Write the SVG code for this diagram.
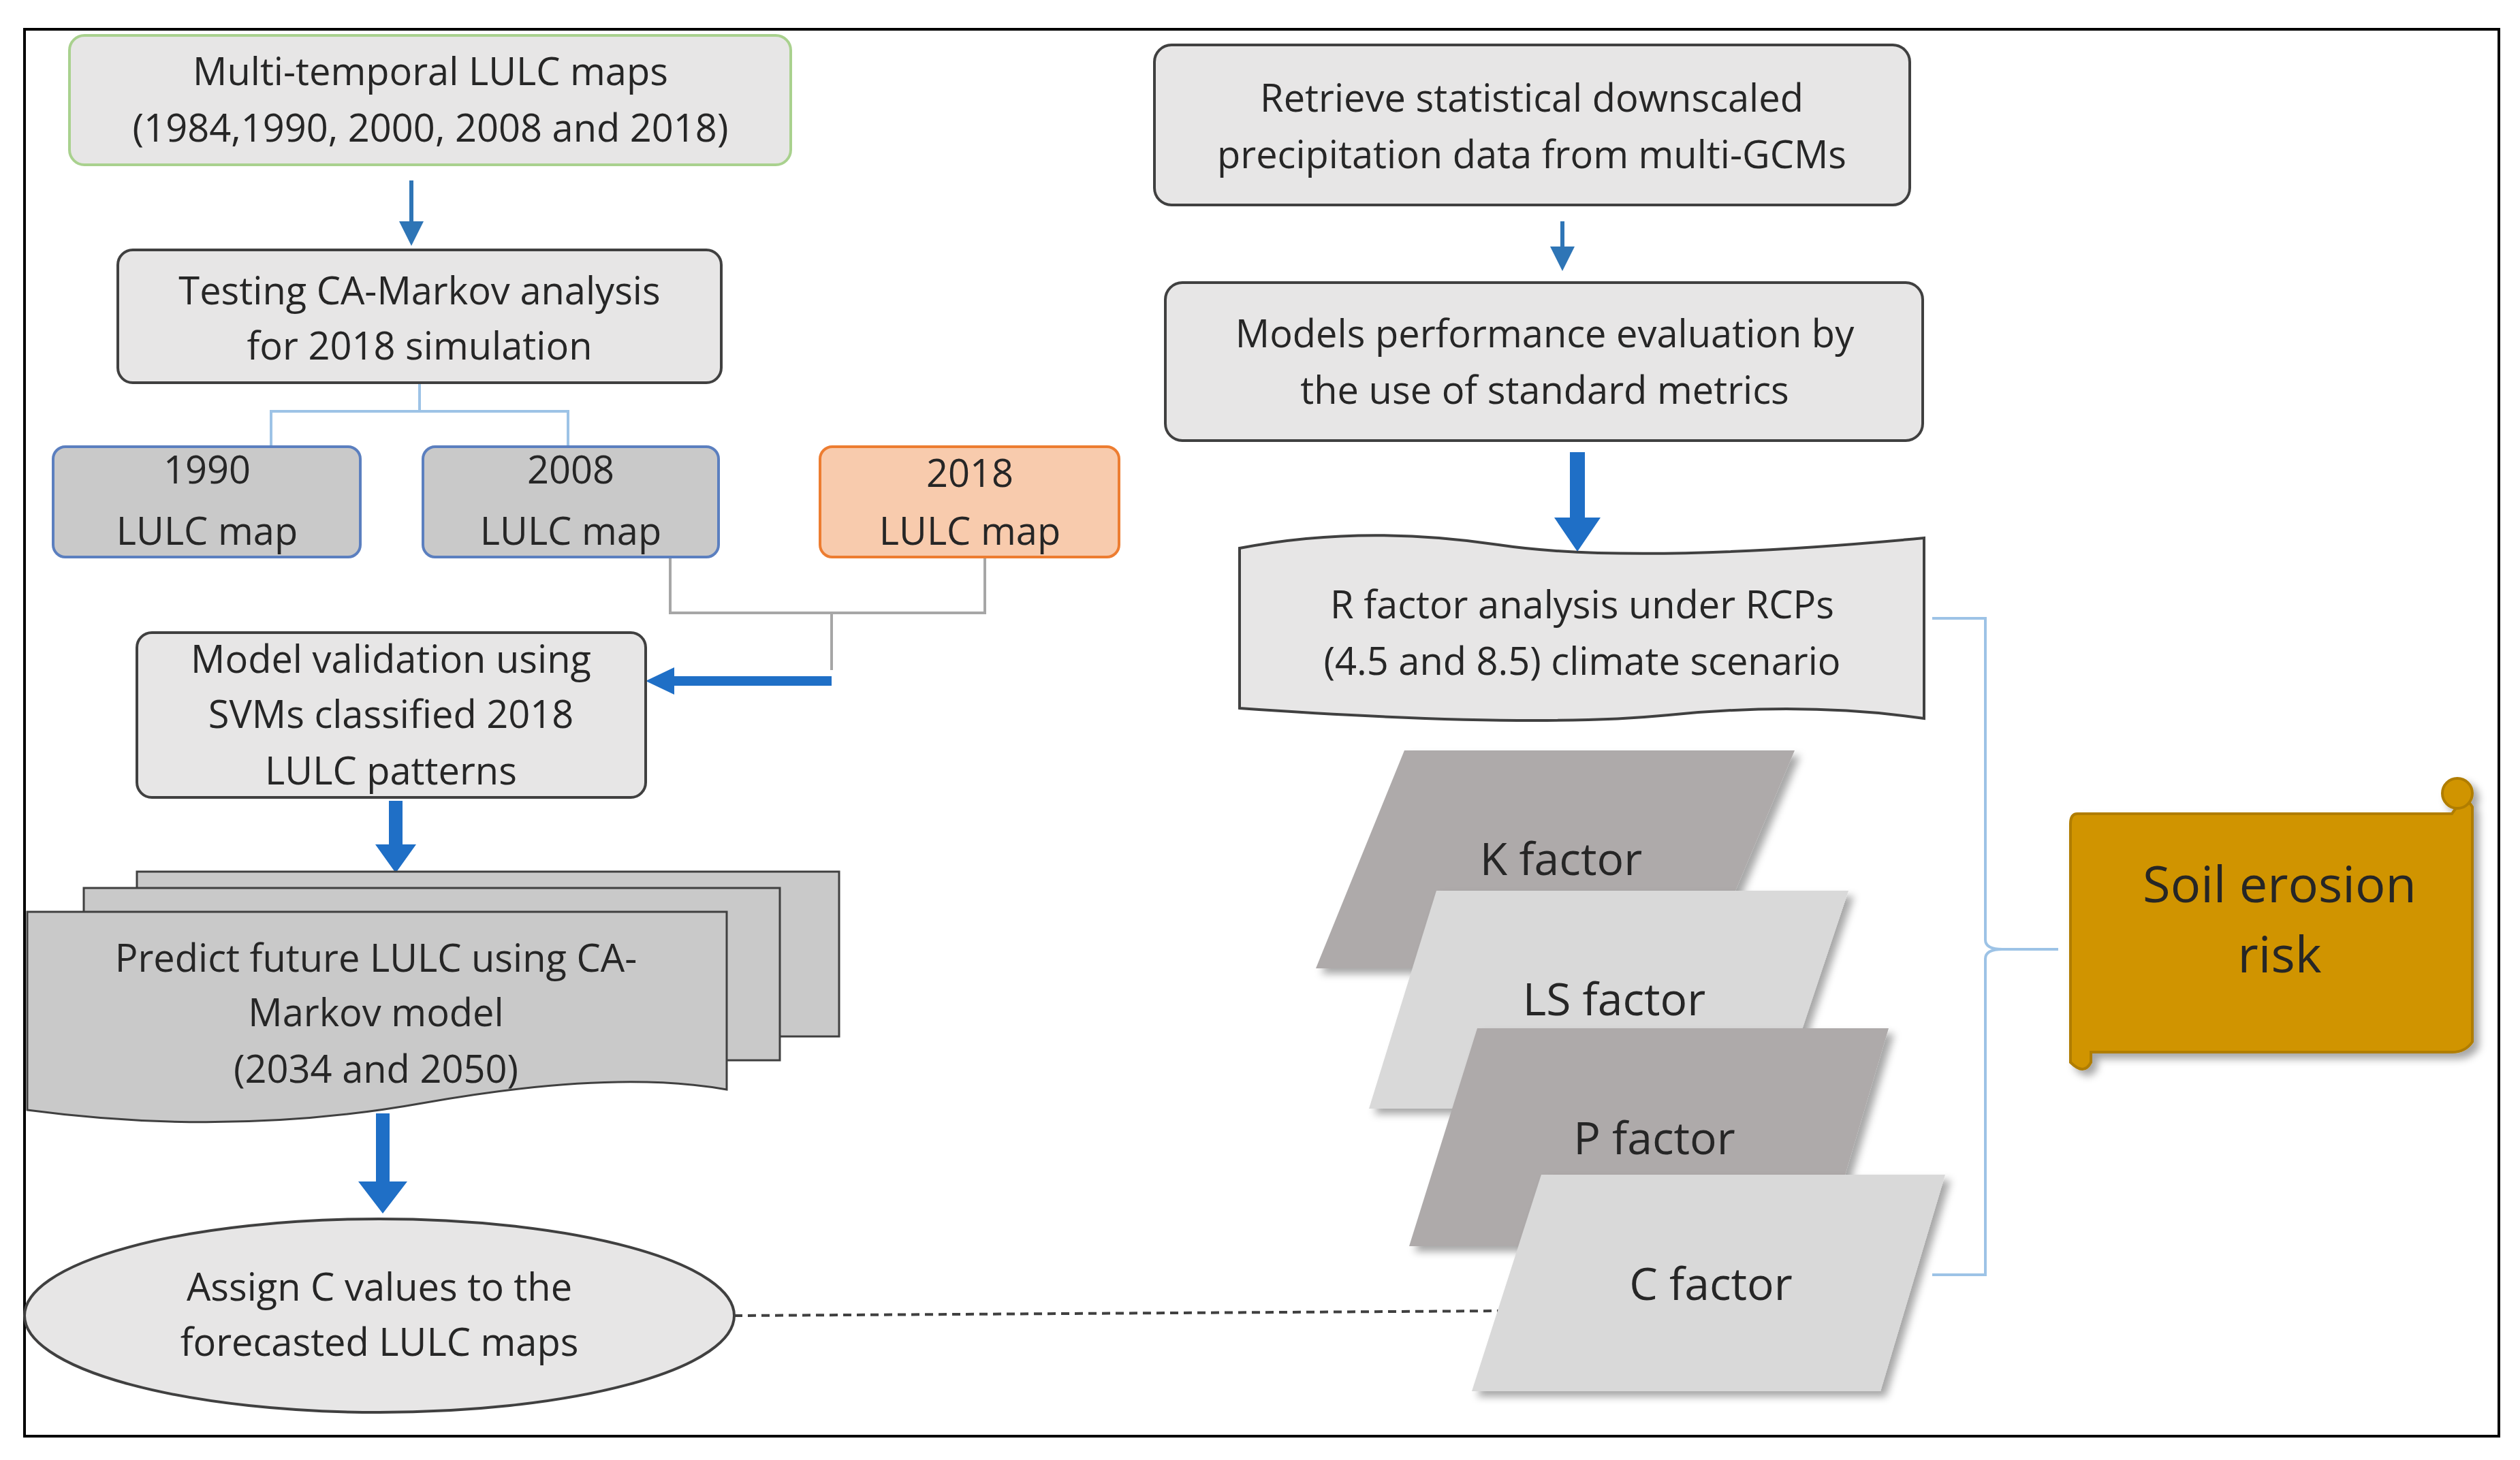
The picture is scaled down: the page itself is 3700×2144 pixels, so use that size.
<svg xmlns="http://www.w3.org/2000/svg" width="3700" height="2144" viewBox="0 0 3700 2144">
<defs>
<style>
text{font-family:"Open Sans","Liberation Sans",sans-serif;font-size:56px;fill:#262626;text-anchor:middle}
.box{fill:#e7e6e6;stroke:#404040;stroke-width:4}
.map{fill:#c9c9c9;stroke:#5b7fbf;stroke-width:4}
.thin{stroke:#2e75b6;stroke-width:6;fill:none}
.thick{fill:#1f6fc6}
.brace{fill:none;stroke:#9dc3e6;stroke-width:4}
.dk{fill:#aeaaaa}
.lt{fill:#d9d9d9}
.f{font-size:66px}
</style>
<filter id="sh" x="-10%" y="-10%" width="130%" height="130%"><feDropShadow dx="8" dy="8" stdDeviation="6" flood-color="#000" flood-opacity="0.35"/></filter>
<marker id="ah" markerWidth="6" markerHeight="6" refX="5" refY="3" orient="auto"><path d="M0,0L6,3L0,6z" fill="#2e75b6"/></marker>
</defs>
<rect x="36" y="43" width="3633" height="2066" fill="#fff" stroke="#000" stroke-width="4"/>
<g id="connectors">
<line class="thin" x1="604" y1="265" x2="604" y2="355" marker-end="url(#ah)"/>
<line class="thin" x1="2294" y1="325" x2="2294" y2="392" marker-end="url(#ah)" stroke-width="10"/>
<path class="brace" d="M616,562V604M398,654V604H834V654"/>
<path d="M984,818V900H1446V818M1221,900V984" fill="none" stroke="#a6a6a6" stroke-width="4"/>
<path class="thick" d="M1221,993H990V980L948,1000L990,1020V1007H1221z"/>
<path class="thick" d="M571,1176H591V1240H611L581,1282L551,1240H571z"/>
<path class="thick" d="M552,1635H572V1735H598L562,1782L526,1735H552z"/>
<path class="thick" d="M2305,664H2327V760H2350L2316,810L2282,760H2305z"/>
<line x1="1078" y1="1932" x2="2204" y2="1925" stroke="#404040" stroke-width="4" stroke-dasharray="12,8"/>
<path class="brace" d="M2837,908H2915V1380Q2915,1394 2940,1394H3022M2940,1394Q2915,1394 2915,1408V1872H2837"/>
</g>
<g id="n1"><rect x="102" y="52" width="1059" height="190" rx="22" fill="#e7e6e6" stroke="#a9d18e" stroke-width="4"/><text x="632" y="125">Multi-temporal LULC maps</text><text x="632" y="208">(1984,1990, 2000, 2008 and 2018)</text></g>
<g id="n2"><rect class="box" x="173" y="367" width="886" height="195" rx="22"/><text x="616" y="447">Testing CA-Markov analysis</text><text x="616" y="528">for 2018 simulation</text></g>
<g id="n3"><rect class="map" x="78" y="656" width="451" height="162" rx="18"/><text x="304" y="710">1990</text><text x="304" y="800">LULC map</text></g>
<g id="n4"><rect class="map" x="621" y="656" width="434" height="162" rx="18"/><text x="838" y="710">2008</text><text x="838" y="800">LULC map</text></g>
<g id="n5"><rect x="1204" y="656" width="439" height="162" rx="18" fill="#f8cbad" stroke="#ed7d31" stroke-width="4"/><text x="1424" y="715">2018</text><text x="1424" y="800">LULC map</text></g>
<g id="n6"><rect class="box" x="201" y="929" width="747" height="242" rx="22"/><text x="574" y="988">Model validation using</text><text x="574" y="1069">SVMs classified 2018</text><text x="574" y="1152">LULC patterns</text></g>
<g id="n7">
<rect x="201" y="1280" width="1031" height="242" fill="#c9c9c9" stroke="#404040" stroke-width="3"/>
<rect x="123" y="1304" width="1022" height="253" fill="#c9c9c9" stroke="#404040" stroke-width="3"/>
<path d="M40,1339H1067V1600Q900,1570 620,1620T40,1630z" fill="#c9c9c9" stroke="#404040" stroke-width="3"/>
<text x="552" y="1427">Predict future LULC using CA-</text><text x="552" y="1507">Markov model</text><text x="552" y="1590">(2034 and 2050)</text></g>
<g id="n8"><ellipse cx="557" cy="1932" rx="521" ry="142" fill="#e7e6e6" stroke="#404040" stroke-width="4"/><text x="557" y="1910">Assign C values to the</text><text x="557" y="1991">forecasted LULC maps</text></g>
<g id="n9"><rect class="box" x="1695" y="66" width="1109" height="235" rx="25"/><text x="2249" y="164">Retrieve statistical downscaled</text><text x="2249" y="247">precipitation data from multi-GCMs</text></g>
<g id="n10"><rect class="box" x="1711" y="415" width="1112" height="232" rx="25"/><text x="2268" y="510">Models performance evaluation by</text><text x="2268" y="593">the use of standard metrics</text></g>
<g id="n11"><path d="M1820,805Q2000,770 2200,800T2825,790V1055Q2650,1030 2450,1050T1820,1040z" fill="#e7e6e6" stroke="#404040" stroke-width="4"/><text x="2323" y="908">R factor analysis under RCPs</text><text x="2323" y="991">(4.5 and 8.5) climate scenario</text></g>
<g id="n12" filter="url(#sh)"><path class="dk" d="M2062,1102H2635L2500,1422H1932z"/><text class="f" x="2292" y="1285">K factor</text></g>
<g id="n13" filter="url(#sh)"><path class="lt" d="M2109,1308H2714L2607,1628H2010z"/><text class="f" x="2370" y="1491">LS factor</text></g>
<g id="n14" filter="url(#sh)"><path class="dk" d="M2169,1510H2773L2678,1830H2069z"/><text class="f" x="2429" y="1695">P factor</text></g>
<g id="n15" filter="url(#sh)"><path class="lt" d="M2263,1725H2856L2761,2043H2161z"/><text class="f" x="2512" y="1909">C factor</text></g>
<g id="n16" filter="url(#sh)">
<path d="M3050,1195H3600Q3620,1165 3630,1185V1530Q3620,1545 3600,1545H3070V1560Q3060,1580 3040,1560V1210Q3040,1195 3050,1195z" fill="#d09400" stroke="#b07d00" stroke-width="4"/>
<circle cx="3608" cy="1165" r="22" fill="#d09400" stroke="#b07d00" stroke-width="4"/>
<text x="3347" y="1325" style="font-size:74px">Soil erosion</text><text x="3347" y="1428" style="font-size:74px">risk</text></g>
</svg>
